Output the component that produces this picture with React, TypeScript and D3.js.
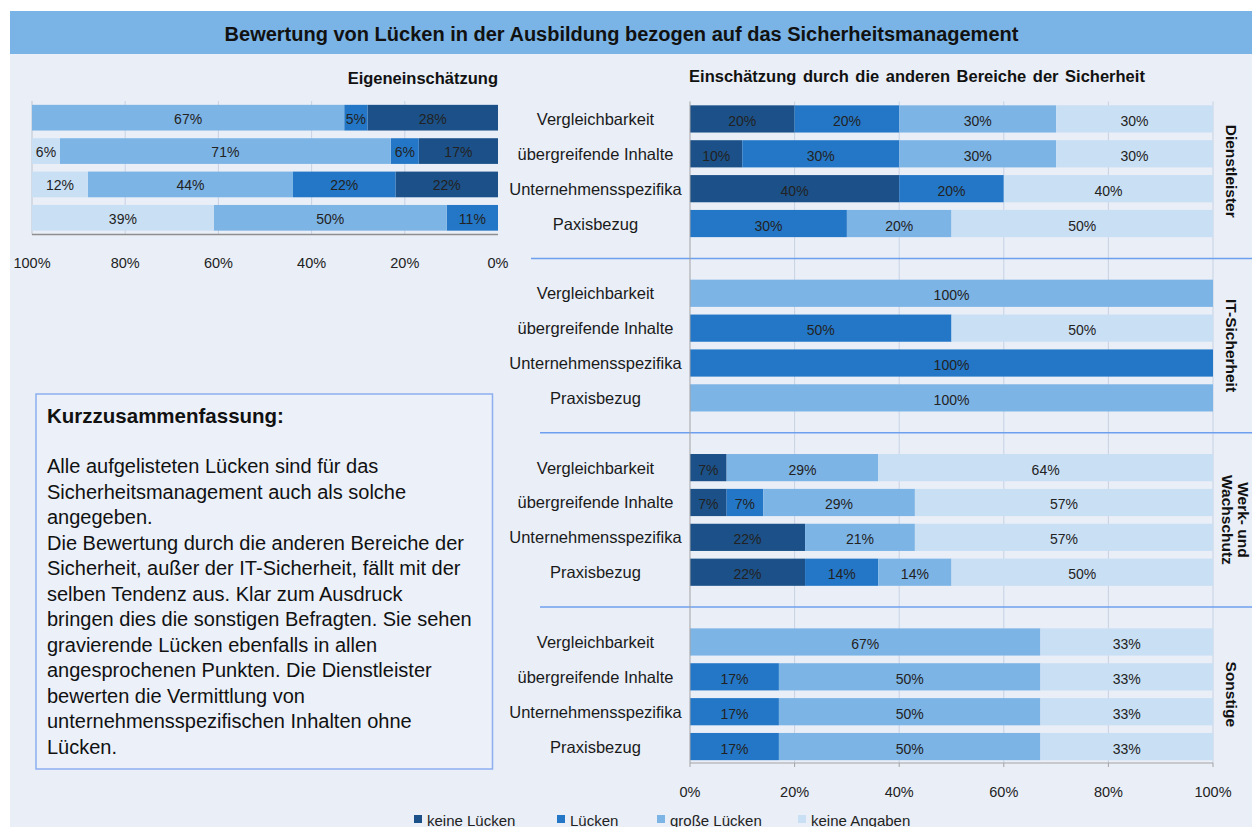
import React from "react";
import * as d3 from "d3";

// ---------- data ----------
const seriesNames = ["keine Lücken", "Lücken", "große Lücken", "keine Angaben"];
const seriesColors = ["#1B5188", "#2477C7", "#7DB4E6", "#C9DFF4"];

const groupNames = ["Dienstleister", "IT-Sicherheit", "Werk- und Wachschutz", "Sonstige"];
const categoriesDienstleister = ["Vergleichbarkeit", "übergreifende Inhalte", "Unternehmensspezifika", "Paxisbezug"];
const categoriesOther = ["Vergleichbarkeit", "übergreifende Inhalte", "Unternehmensspezifika", "Praxisbezug"];

// rows = categories, columns = series (keine Lücken, Lücken, große Lücken, keine Angaben)
const selfValues = [
  [28, 5, 67, 0],
  [17, 6, 71, 6],
  [22, 22, 44, 12],
  [0, 11, 50, 39],
];
const dienstleisterValues = [
  [20, 20, 30, 30],
  [10, 30, 30, 30],
  [40, 20, 0, 40],
  [0, 30, 20, 50],
];
const itValues = [
  [0, 0, 100, 0],
  [0, 50, 0, 50],
  [0, 100, 0, 0],
  [0, 0, 100, 0],
];
const werkValues = [
  [7, 0, 29, 64],
  [7, 7, 29, 57],
  [22, 0, 21, 57],
  [22, 14, 14, 50],
];
const sonstigeValues = [
  [0, 0, 67, 33],
  [0, 17, 50, 33],
  [0, 17, 50, 33],
  [0, 17, 50, 33],
];
const tickValues = [0, 20, 40, 60, 80, 100];

const summaryTitle = "Kurzzusammenfassung:";
const summaryLines = [
  "Alle aufgelisteten Lücken sind für das",
  "Sicherheitsmanagement auch als solche",
  "angegeben.",
  "Die Bewertung durch die anderen Bereiche der",
  "Sicherheit, außer der IT-Sicherheit, fällt mit der",
  "selben Tendenz aus. Klar zum Ausdruck",
  "bringen dies die sonstigen Befragten. Sie sehen",
  "gravierende Lücken ebenfalls in allen",
  "angesprochenen Punkten. Die Dienstleister",
  "bewerten die Vermittlung von",
  "unternehmensspezifischen Inhalten ohne",
  "Lücken.",
];

const FONT = "'Liberation Sans', Arial, sans-serif";

export default function App() {
  const W = 1252;
  const H = 827;
  const groupValues = [dienstleisterValues, itValues, werkValues, sonstigeValues];
  const groupCats = [categoriesDienstleister, categoriesOther, categoriesOther, categoriesOther];

  const xR = d3.scaleLinear().domain([0, 100]).range([690, 1213]);
  const xL = d3.scaleLinear().domain([0, 100]).range([498, 32]);
  const yR = d3
    .scaleBand<number>()
    .domain(d3.range(19))
    .range([101.5, 764])
    .paddingInner(0.22)
    .paddingOuter(0.11);
  const yL = d3
    .scaleBand<number>()
    .domain(d3.range(4))
    .range([101, 234.5])
    .paddingInner(0.23)
    .paddingOuter(0.115);

  const stack = d3
    .stack<number[], number>()
    .keys([0, 1, 2, 3])
    .value((d, k) => d[k]);

  const slotOf = (g: number, r: number) => g * 5 + r;
  const slotCenter = (s: number) => (yR(s) as number) + yR.bandwidth() / 2;

  const gridColor = "#C7D2E4";
  const axisColor = "#A3A3A3";
  const labelColor = "#222";

  const leftStacked = stack(selfValues);
  const sepStarts = [531, 540, 540];
  const legendX = [414, 557, 657, 798];

  return (
    <svg
      width={W}
      height={H}
      style={{ position: "absolute", left: 0, top: 0, display: "block" }}
      fontFamily={FONT}
    >
      <rect x={0} y={0} width={W} height={H} fill="#fff" />
      <rect x={10} y={11} width={W - 10} height={H - 11} fill="#E9EEF7" />
      <rect x={10} y={11} width={W - 10} height={43} fill="#7AB4E6" />
      <text x={621.5} y={34} textAnchor="middle" dominantBaseline="central" fontSize={20} fontWeight="bold" fill="#111">
        Bewertung von Lücken in der Ausbildung bezogen auf das Sicherheitsmanagement
      </text>

      {/* ---------- left chart ---------- */}
      <text x={498} y={78} textAnchor="end" dominantBaseline="central" fontSize={16.5} fontWeight="bold" fill="#111">
        Eigeneinschätzung
      </text>
      {[20, 40, 60, 80].map((v) => (
        <line key={"lg" + v} x1={xL(v)} x2={xL(v)} y1={101} y2={234.5} stroke={gridColor} strokeWidth={1} />
      ))}
      <line x1={xL(100)} x2={xL(100)} y1={101} y2={234.5} stroke="#BFC6D2" strokeWidth={1} />
      {leftStacked.map((series, s) =>
        series.map((seg, r) => {
          const v = selfValues[r][s];
          if (!v) return null;
          const x0 = xL(seg[1]);
          const x1 = xL(seg[0]);
          const y = yL(r) as number;
          return (
            <g key={`l${s}-${r}`}>
              <rect x={x0} y={y} width={x1 - x0} height={yL.bandwidth()} fill={seriesColors[s]} />
              <text
                x={(x0 + x1) / 2}
                y={y + yL.bandwidth() / 2 + 1}
                textAnchor="middle"
                dominantBaseline="central"
                fontSize={14}
                fill={labelColor}
              >
                {v}%
              </text>
            </g>
          );
        })
      )}
      <line x1={xL(100)} x2={xL(0)} y1={234.5} y2={234.5} stroke="#8E8E8E" strokeWidth={1.5} />
      {tickValues.map((v) => (
        <text key={"lt" + v} x={xL(v)} y={263} textAnchor="middle" dominantBaseline="central" fontSize={14.5} fill={labelColor}>
          {v}%
        </text>
      ))}

      {/* ---------- right chart ---------- */}
      <text
        x={917}
        y={76}
        textAnchor="middle"
        dominantBaseline="central"
        fontSize={16.5}
        fontWeight="bold"
        wordSpacing={2}
        fill="#111"
      >
        Einschätzung durch die anderen Bereiche der Sicherheit
      </text>
      {[20, 40, 60, 80, 100].map((v) => (
        <line key={"rg" + v} x1={xR(v)} x2={xR(v)} y1={101.5} y2={763} stroke={gridColor} strokeWidth={1} />
      ))}
      {[0, 1, 2].map((i) => {
        const y = slotCenter(i * 5 + 4);
        return <line key={"sep" + i} x1={sepStarts[i]} x2={W} y1={y} y2={y} stroke="#6E9FEF" strokeWidth={1.5} />;
      })}
      {groupValues.map((rows, g) => {
        const stacked = stack(rows);
        return (
          <g key={"grp" + g}>
            {groupCats[g].map((c, r) => (
              <text
                key={"c" + r}
                x={595.5}
                y={slotCenter(slotOf(g, r))}
                textAnchor="middle"
                dominantBaseline="central"
                fontSize={16.5}
                fill="#1a1a1a"
              >
                {c}
              </text>
            ))}
            {stacked.map((series, s) =>
              series.map((seg, r) => {
                const v = rows[r][s];
                if (!v) return null;
                const x0 = xR(seg[0]);
                const x1 = xR(seg[1]);
                const y = yR(slotOf(g, r)) as number;
                return (
                  <g key={`r${s}-${r}`}>
                    <rect x={x0} y={y} width={x1 - x0} height={yR.bandwidth()} fill={seriesColors[s]} />
                    <text
                      x={(x0 + x1) / 2}
                      y={y + yR.bandwidth() / 2 + 2}
                      textAnchor="middle"
                      dominantBaseline="central"
                      fontSize={14}
                      fill={labelColor}
                    >
                      {v}%
                    </text>
                  </g>
                );
              })
            )}
          </g>
        );
      })}
      <line x1={xR(0)} x2={xR(0)} y1={101.5} y2={763} stroke={axisColor} strokeWidth={1} />
      <line x1={xR(0)} x2={xR(100)} y1={763} y2={763} stroke={axisColor} strokeWidth={1} />
      {tickValues.map((v) => (
        <line key={"tk" + v} x1={xR(v)} x2={xR(v)} y1={763} y2={767} stroke={axisColor} strokeWidth={1} />
      ))}
      {tickValues.map((v) => (
        <text key={"rt" + v} x={xR(v)} y={792} textAnchor="middle" dominantBaseline="central" fontSize={14.5} fill={labelColor}>
          {v}%
        </text>
      ))}

      {/* group labels */}
      {groupNames.map((name, g) => {
        const cy = (slotCenter(slotOf(g, 0)) + slotCenter(slotOf(g, 3))) / 2;
        const parts = name === "Werk- und Wachschutz" ? ["Werk- und", "Wachschutz"] : [name];
        const cx = parts.length > 1 ? 1236 : 1232;
        return (
          <text
            key={"gn" + g}
            transform={`translate(${cx},${cy}) rotate(90)`}
            textAnchor="middle"
            dominantBaseline="central"
            fontSize={15.5}
            fontWeight="bold"
            fill="#111"
          >
            {parts.map((p, i) => (
              <tspan key={i} x={0} y={parts.length > 1 ? (i - 0.5) * 16 : 0}>
                {p}
              </tspan>
            ))}
          </text>
        );
      })}

      {/* legend */}
      {seriesNames.map((n, i) => (
        <g key={"lg" + i}>
          <rect x={legendX[i]} y={815} width={8} height={8} fill={seriesColors[i]} />
          <text x={legendX[i] + 13} y={820} dominantBaseline="central" fontSize={15} fill={labelColor}>
            {n}
          </text>
        </g>
      ))}

      {/* summary box */}
      <rect x={36} y={394} width={456.5} height={375} fill="#EBF0F9" stroke="#8DAFF0" strokeWidth={1.5} />
      <text x={47} y={423} fontSize={20.5} fontWeight="bold" fill="#111">
        {summaryTitle}
      </text>
      {summaryLines.map((l, i) => (
        <text key={"sl" + i} x={47} y={473 + i * 25.5} fontSize={20} fill="#111">
          {l}
        </text>
      ))}
    </svg>
  );
}
